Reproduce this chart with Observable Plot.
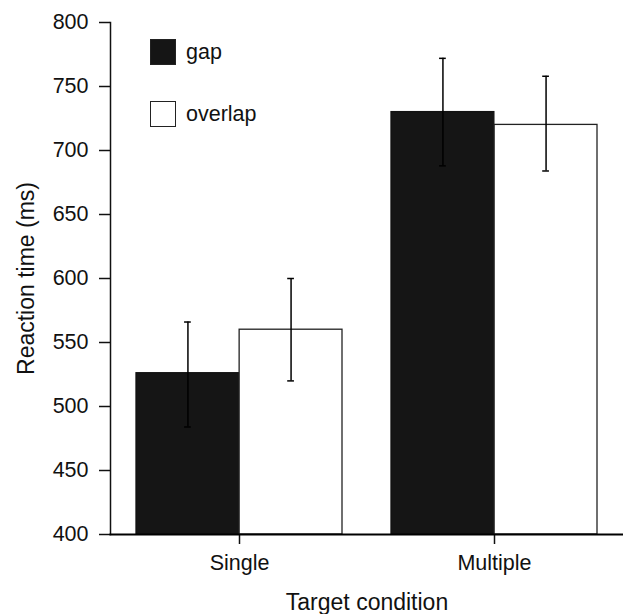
<!DOCTYPE html>
<html>
<head>
<meta charset="utf-8">
<script src="https://cdn.jsdelivr.net/npm/d3@7"></script>
<script src="https://cdn.jsdelivr.net/npm/@observablehq/plot@0.6"></script>
<style>
  html, body { margin: 0; padding: 0; background: #fff; }
  #wrap { position: relative; width: 623px; height: 614px; font-family: "Liberation Sans", Arial, Helvetica, sans-serif; }
  #wrap svg [aria-label="y-axis label"], #wrap svg [aria-label="x-axis label"] { font-size: 23px; }
  .legend { position: absolute; left: 150px; top: 39px; }
  .item { position: absolute; left: 0; display: flex; align-items: center; white-space: nowrap; font-size: 21.5px; color: #111; }
  .sw { width: 24px; height: 24px; border: 1.5px solid #222; margin-right: 10px; flex: none; }
</style>
</head>
<body>
<div id="wrap"></div>
<script>
const categories = ["Single", "Multiple"];
const series = ["gap", "overlap"];
const seriesColors = ["#151515", "#ffffff"];
const gapRT = [526, 730];
const overlapRT = [560, 720];
const gapLo = [484, 688];
const gapHi = [566, 772];
const overlapLo = [520, 684];
const overlapHi = [600, 758];
const yTicks = [400, 450, 500, 550, 600, 650, 700, 750, 800];
const yDomain = [400, 800];

const gapData = categories.map((c, i) => ({condition: c, type: "gap", rt: gapRT[i], lo: gapLo[i], hi: gapHi[i]}));
const overlapData = categories.map((c, i) => ({condition: c, type: "overlap", rt: overlapRT[i], lo: overlapLo[i], hi: overlapHi[i]}));

// layout
const W = 623, H = 614, mL = 110, mR = 0;
const padIn = 0.193, padOut = 0.1;
const band = (W - mL - mR) / (categories.length - padIn + 2 * padOut) * (1 - padIn);
const half = band / 2;
const capW = 7;
const capIn = half / 2 - capW / 2;

const chart = Plot.plot({
  width: W,
  height: H,
  marginLeft: mL,
  marginRight: mR,
  marginTop: 22,
  marginBottom: 80,
  style: {fontFamily: "'Liberation Sans', Arial, Helvetica, sans-serif", fontSize: "21.5px", color: "#111", background: "white", overflow: "visible"},
  x: {domain: categories, paddingInner: padIn, paddingOuter: padOut},
  y: {domain: yDomain},
  color: {domain: series, range: seriesColors},
  marks: [
    Plot.barY(gapData, {x: "condition", y1: () => yDomain[0], y2: "rt", fill: "type", stroke: "#111", strokeWidth: 1.3, insetRight: half}),
    Plot.barY(overlapData, {x: "condition", y1: () => yDomain[0], y2: "rt", fill: "type", stroke: "#222", strokeWidth: 1.3, insetLeft: half}),
    Plot.ruleX(gapData, {x: "condition", y1: "lo", y2: "hi", dx: -half / 2, stroke: "#000", strokeWidth: 1.5}),
    Plot.ruleX(overlapData, {x: "condition", y1: "lo", y2: "hi", dx: half / 2, stroke: "#000", strokeWidth: 1.5}),
    Plot.tickY(gapData, {x: "condition", y: "hi", insetLeft: capIn, insetRight: half + capIn, stroke: "#000", strokeWidth: 1.5}),
    Plot.tickY(gapData, {x: "condition", y: "lo", insetLeft: capIn, insetRight: half + capIn, stroke: "#000", strokeWidth: 1.5}),
    Plot.tickY(overlapData, {x: "condition", y: "hi", insetLeft: half + capIn, insetRight: capIn, stroke: "#000", strokeWidth: 1.5}),
    Plot.tickY(overlapData, {x: "condition", y: "lo", insetLeft: half + capIn, insetRight: capIn, stroke: "#000", strokeWidth: 1.5}),
    Plot.axisY({ticks: yTicks, tickSize: 11, tickPadding: 11, label: "Reaction time (ms)", labelAnchor: "center", labelOffset: 93, labelArrow: "none", strokeWidth: 1.5}),
    Plot.axisX({anchor: "bottom", tickSize: 10, tickPadding: 10, label: "Target condition", labelAnchor: "center", labelOffset: 75, labelArrow: "none", strokeWidth: 1.5}),
    Plot.frame({anchor: "left", stroke: "#111", strokeWidth: 1.5}),
    Plot.frame({anchor: "bottom", stroke: "#000", strokeWidth: 2})
  ]
});

const wrap = document.getElementById("wrap");
wrap.appendChild(chart);

const legend = document.createElement("div");
legend.className = "legend";
series.forEach((s, i) => {
  const item = document.createElement("div");
  item.className = "item";
  item.style.top = (i * 62) + "px";
  const sw = document.createElement("div");
  sw.className = "sw";
  sw.style.background = seriesColors[i];
  item.appendChild(sw);
  item.appendChild(document.createTextNode(s));
  legend.appendChild(item);
});
wrap.appendChild(legend);
</script>
</body>
</html>
